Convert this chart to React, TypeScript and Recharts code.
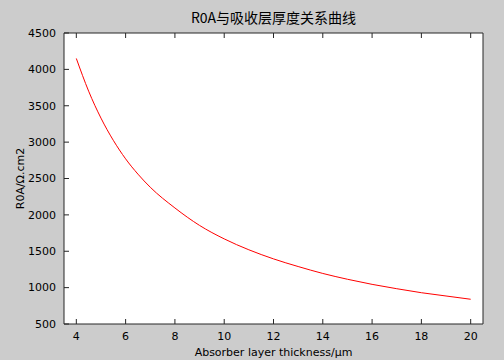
import { CartesianGrid, Line, LineChart, XAxis, YAxis } from "recharts";

// absorber thickness (µm) vs R0A (Ω·cm²)
const thickness = [4, 4.5, 5, 5.5, 6, 6.5, 7, 8, 9, 10, 11, 12, 13, 14, 15, 16, 17, 18, 19, 20];
const r0a = [4150, 3700, 3330, 3025, 2770, 2560, 2380, 2095, 1855, 1670, 1520, 1395, 1290, 1195, 1115, 1045, 985, 930, 885, 840];

const xTicks = [4, 6, 8, 10, 12, 14, 16, 18, 20];
const yTicks = [500, 1000, 1500, 2000, 2500, 3000, 3500, 4000, 4500];

const title = "R0A与吸收层厚度关系曲线";
const xLabel = "Absorber layer thickness/μm";
const yLabel = "R0A/Ω.cm2";

const data = thickness.map((t, i) => ({ t, r: r0a[i] }));

const FONT = "'DejaVu Sans', 'Noto Sans CJK SC', sans-serif";
const AXIS = "#262626";
const GAP = 8; // distance from axis line to tick label
const TICK = 5; // inward tick length

// MATLAB-style ticks point into the plot box
function InTick({ x, y, payload, side, label }: any) {
  let line;
  if (side === "bottom") line = <line x1={x} x2={x} y1={y - GAP} y2={y - GAP - TICK} stroke={AXIS} />;
  else if (side === "top") line = <line x1={x} x2={x} y1={y + GAP} y2={y + GAP + TICK} stroke={AXIS} />;
  else if (side === "left") line = <line x1={x + GAP} x2={x + GAP + TICK} y1={y} y2={y} stroke={AXIS} />;
  else line = <line x1={x - GAP} x2={x - GAP - TICK} y1={y} y2={y} stroke={AXIS} />;
  return (
    <g>
      {line}
      {label && (
        <text
          x={x}
          y={y}
          dy={side === "bottom" ? "0.71em" : "0.35em"}
          textAnchor={side === "bottom" ? "middle" : "end"}
          style={{ fontSize: 11, fontFamily: FONT, fill: "#000" }}
        >
          {payload.value}
        </text>
      )}
    </g>
  );
}

export default function App() {
  return (
    <div
      style={{
        position: "absolute",
        left: 0,
        top: 0,
        width: 504,
        height: 360,
        background: "#cccccc",
      }}
    >
      <div
        style={{
          position: "absolute",
          left: 64,
          width: 419,
          top: 7,
          textAlign: "center",
          fontSize: 14,
          lineHeight: "20px",
          fontFamily: "'Noto Sans CJK SC', sans-serif",
          color: "#000",
        }}
      >
        {title}
      </div>
      <LineChart
        width={504}
        height={360}
        data={data}
        margin={{ top: 32, right: 20, bottom: 0, left: 0 }}
      >
        <CartesianGrid fill="#ffffff" stroke="none" horizontal={false} vertical={false} />
        <XAxis
          dataKey="t"
          type="number"
          domain={[3.5, 20.5]}
          ticks={xTicks}
          height={36}
          tickLine={false}
          tickSize={0}
          tickMargin={GAP}
          stroke={AXIS}
          tick={(p: any) => <InTick {...p} side="bottom" label />}
          label={{
            content: ({ viewBox }: any) => (
              <text
                x={viewBox.x + viewBox.width / 2}
                y={viewBox.y + 28}
                textAnchor="middle"
                dominantBaseline="central"
                style={{ fontSize: 11, fontFamily: FONT }}
              >
                {xLabel}
              </text>
            ),
          }}
        />
        <XAxis
          xAxisId="top"
          orientation="top"
          dataKey="t"
          type="number"
          domain={[3.5, 20.5]}
          ticks={xTicks}
          height={1}
          tickLine={false}
          tickSize={0}
          tickMargin={GAP}
          stroke={AXIS}
          tick={(p: any) => <InTick {...p} side="top" />}
        />
        <YAxis
          type="number"
          domain={[500, 4500]}
          ticks={yTicks}
          width={64}
          tickLine={false}
          tickSize={0}
          tickMargin={GAP}
          stroke={AXIS}
          tick={(p: any) => <InTick {...p} side="left" label />}
          label={{
            content: ({ viewBox }: any) => {
              const cx = viewBox.x + 20;
              const cy = viewBox.y + viewBox.height / 2;
              return (
                <text
                  x={cx}
                  y={cy}
                  transform={`rotate(-90, ${cx}, ${cy})`}
                  textAnchor="middle"
                  dominantBaseline="central"
                  style={{ fontSize: 11, fontFamily: FONT }}
                >
                  {yLabel}
                </text>
              );
            },
          }}
        />
        <YAxis
          yAxisId="right"
          orientation="right"
          type="number"
          domain={[500, 4500]}
          ticks={yTicks}
          width={1}
          tickLine={false}
          tickSize={0}
          tickMargin={GAP}
          stroke={AXIS}
          tick={(p: any) => <InTick {...p} side="right" />}
        />
        <Line
          type="monotone"
          dataKey="r"
          stroke="#ff0000"
          strokeWidth={1}
          dot={false}
          isAnimationActive={false}
        />
      </LineChart>
    </div>
  );
}
